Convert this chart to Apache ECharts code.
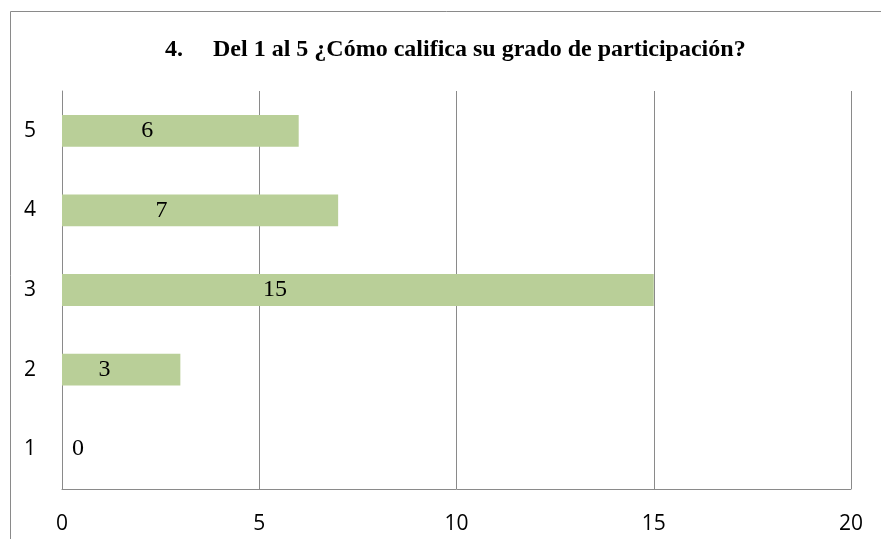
<!DOCTYPE html>
<html>
<head>
<meta charset="utf-8">
<script src="https://cdn.jsdelivr.net/npm/echarts@6/dist/echarts.min.js"></script>
<style>
  html, body { margin: 0; padding: 0; background: #fff; }
  #chart { width: 881px; height: 539px; }
</style>
</head>
<body>
<div id="chart"></div>
<script>
const categories = ['1', '2', '3', '4', '5']
const values = [0, 3, 15, 7, 6]
const xTicks = { min: 0, max: 20, interval: 5 }
const titleText = '4.\u00a0\u00a0\u00a0\u00a0\u00a0Del 1 al 5 ¿Cómo califica su grado de participación?'

const chart = echarts.init(document.getElementById('chart'))

const barData = values.map((v) => {
  if (v === 0) {
    // zero-length bar: put the label just right of the axis
    return { value: v, label: { position: 'right', distance: 16 } }
  }
  return v
})

const option = {
  animation: false,
  backgroundColor: '#fff',
  title: {
    text: titleText,
    left: 160,
    top: 33,
    textStyle: {
      fontFamily: 'Liberation Serif',
      fontWeight: 'bold',
      fontSize: 24,
      color: '#000'
    }
  },
  graphic: [
    {
      type: 'rect',
      shape: { x: 10.5, y: 11.5, width: 900, height: 600 },
      style: { fill: 'none', stroke: '#8a8a8a', lineWidth: 1 },
      silent: true
    }
  ],
  grid: {
    left: 62,
    right: 30,
    top: 91,
    bottom: 50,
    containLabel: false
  },
  xAxis: {
    type: 'value',
    min: xTicks.min,
    max: xTicks.max,
    interval: xTicks.interval,
    axisLine: { show: true, lineStyle: { color: '#8a8a8a', width: 1 } },
    axisTick: { show: false },
    splitLine: { show: true, lineStyle: { color: '#8a8a8a', width: 1 } },
    axisLabel: {
      margin: 25,
      fontFamily: 'Open Sans',
      fontSize: 21,
      color: '#000'
    }
  },
  yAxis: {
    type: 'category',
    data: categories,
    axisLine: { show: true, lineStyle: { color: '#8a8a8a', width: 1 } },
    axisTick: { show: false },
    axisLabel: {
      margin: 26,
      fontFamily: 'Open Sans',
      fontSize: 21,
      color: '#000'
    }
  },
  series: [
    {
      type: 'bar',
      data: barData,
      barWidth: '40%',
      itemStyle: { color: '#b9cf98' },
      label: {
        show: true,
        position: ['36%', '50%'],
        align: 'center',
        verticalAlign: 'middle',
        fontFamily: 'Liberation Serif',
        fontSize: 24,
        color: '#000'
      }
    }
  ]
}

chart.setOption(option)
</script>
</body>
</html>
